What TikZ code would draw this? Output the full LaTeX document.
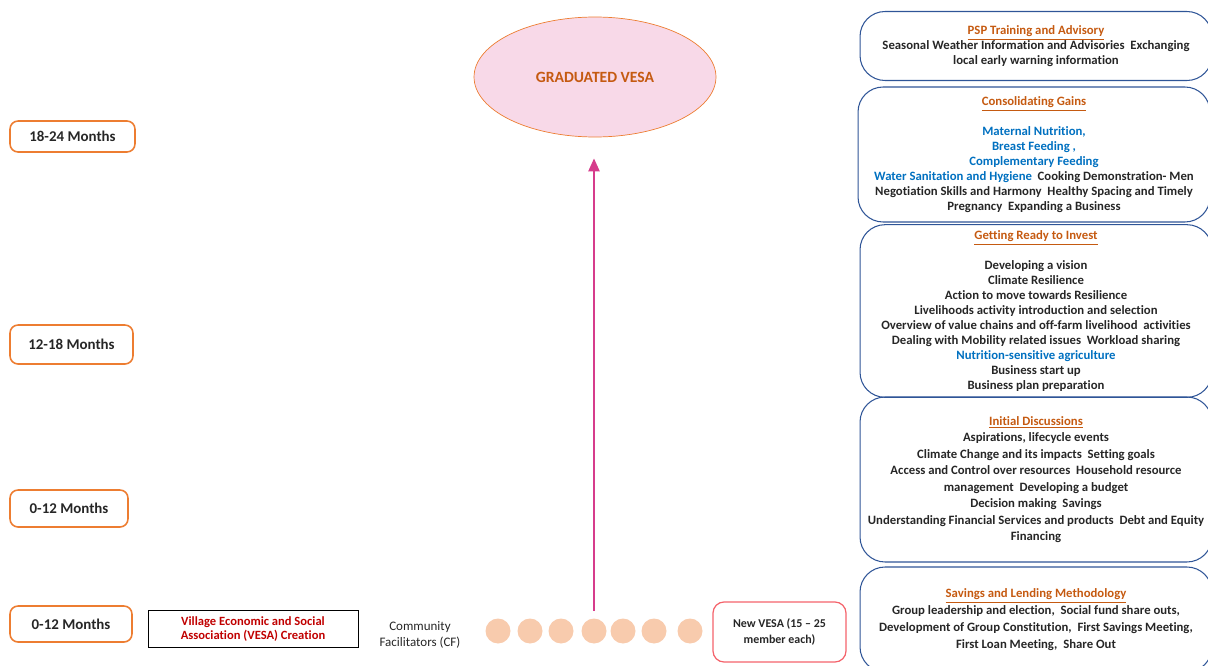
\documentclass[tikz,border=0pt]{standalone}
\usepackage{fontspec}
\setmainfont{Carlito}[Ligatures=NoCommon]
\usetikzlibrary{positioning,arrows.meta,shapes.geometric}
\definecolor{txt}{HTML}{262626}
\definecolor{boxblue}{HTML}{2F5597}
\definecolor{headorange}{HTML}{C55A11}
\definecolor{nutblue}{HTML}{0070C0}
\definecolor{monthorange}{HTML}{ED7D31}
\definecolor{gradfill}{HTML}{F8D9E8}
\definecolor{arrowpink}{HTML}{D63C8C}
\definecolor{peach}{HTML}{F8CBAD}
\definecolor{newred}{HTML}{F4636B}
\definecolor{vesared}{HTML}{C00000}

\begin{document}
\begin{tikzpicture}[x=0.02cm,y=-0.02cm,>={Triangle[length=2.6mm,width=2.2mm]},
  every node/.style={text=txt},
  month/.style={draw=monthorange,line width=0.9pt,rounded corners=1.6mm,minimum width=2.44cm,minimum height=0.7cm,font=\fontsize{8.5}{10}\selectfont\bfseries},
  topic/.style={draw=boxblue,line width=0.6pt,rounded corners=5mm,minimum width=7.04cm,align=center,font=\fontsize{7.25}{8.54}\selectfont\bfseries},
  member/.style={circle,fill=peach,minimum size=0.5cm,inner sep=0pt},
  head/.style={text=headorange}]
  \path[use as bounding box,clip] (0,0) rectangle (1208,666);

  \node[ellipse,draw=monthorange,fill=gradfill,minimum width=4.84cm,minimum height=2.4cm,font=\fontsize{8.9}{10}\selectfont\bfseries,text=headorange] (grad) at (595,77) {GRADUATED VESA};

  \node[month,minimum width=2.5cm,minimum height=0.62cm] (m4) at (72.5,136.5) {18-24 Months};
  \node[month,minimum width=2.46cm,minimum height=0.78cm] (m3) at (71.5,344.5) {12-18 Months};
  \node[month,minimum width=2.36cm,minimum height=0.74cm] (m2) at (69,508.5) {0-12 Months};
  \node[month,minimum width=2.44cm,minimum height=0.72cm] (m1) at (71,624) {0-12 Months};

  \node[topic,minimum height=1.38cm] (psp) at (1036,46) {{\color{headorange}\underline{PSP Training and Advisory}}\\
    Seasonal Weather Information and Advisories\ \ Exchanging\\ local early warning information};
  \node[topic,minimum height=2.7cm] (gains) at (1034,154.5) {{\color{headorange}\underline{Consolidating Gains}}\\[8.5pt]
    {\color{nutblue}Maternal Nutrition,}\\ {\color{nutblue}Breast Feeding ,}\\ {\color{nutblue}Complementary Feeding}\\
    {\color{nutblue}Water Sanitation and Hygiene}\ \ Cooking Demonstration- Men\\
    Negotiation Skills and Harmony\ \ Healthy Spacing and Timely\\ Pregnancy\ \ Expanding a Business};
  \node[topic,minimum height=3.28cm] (invest) at (1036,311) {{\color{headorange}\underline{Getting Ready to Invest}}\\[8.5pt]
    Developing a vision\\ Climate Resilience\\ Action to move towards Resilience\\
    Livelihoods activity introduction and selection\\ Overview of value chains and off-farm livelihood\ \ activities\\
    Dealing with Mobility related issues\ \ Workload sharing\\ {\color{nutblue}Nutrition-sensitive agriculture}\\
    Business start up\\ Business plan preparation};
  \node[topic,minimum height=3.3cm,font=\fontsize{7.25}{9.4}\selectfont\bfseries] (initial) at (1036,479.5) {{\color{headorange}\underline{Initial Discussions}}\\
    Aspirations, lifecycle events\\ Climate Change and its impacts\ \ Setting goals\\
    Access and Control over resources\ \ Household resource\\ management\ \ Developing a budget\\
    Decision making\ \ Savings\\ Understanding Financial Services and products\ \ Debt and Equity\\ Financing};
  \node[topic,minimum height=2.1cm,font=\fontsize{7.25}{9.7}\selectfont\bfseries] (saving) at (1036,619.5) {{\color{headorange}\underline{Savings and Lending Methodology}}\\
    Group leadership and election,\ \ Social fund share outs,\\
    Development of Group Constitution,\ \ First Savings Meeting,\\ First Loan Meeting,\ \ Share Out};

  \node[draw=black,line width=0.5pt,minimum width=4.2cm,minimum height=0.68cm,align=center,text=vesared,font=\fontsize{7.15}{8.4}\selectfont\bfseries] (create) at (253,629) {Village Economic and Social\\ Association (VESA) Creation};
  \node[align=center,font=\fontsize{7.4}{9.4}\selectfont] (cf) at (420,635) {Community\\ Facilitators (CF)};
  \foreach \i/\x in {1/498,2/530,3/561,4/594,5/623,6/654,7/690}
    \node[member] (c\i) at (\x,631) {};
  \node[draw=newred,line width=0.7pt,rounded corners=2.2mm,minimum width=2.66cm,minimum height=1.2cm,align=center,font=\fontsize{6.8}{9.4}\selectfont\bfseries] (new) at (779.5,632) {New VESA (15 -- 25\\ member each)};

  \draw[->,draw=arrowpink,fill=arrowpink,line width=1.3pt,shorten <=0.14cm,shorten >=0.42cm] (c4.north) -- (c4.north |- grad.south);
\end{tikzpicture}
\end{document}
